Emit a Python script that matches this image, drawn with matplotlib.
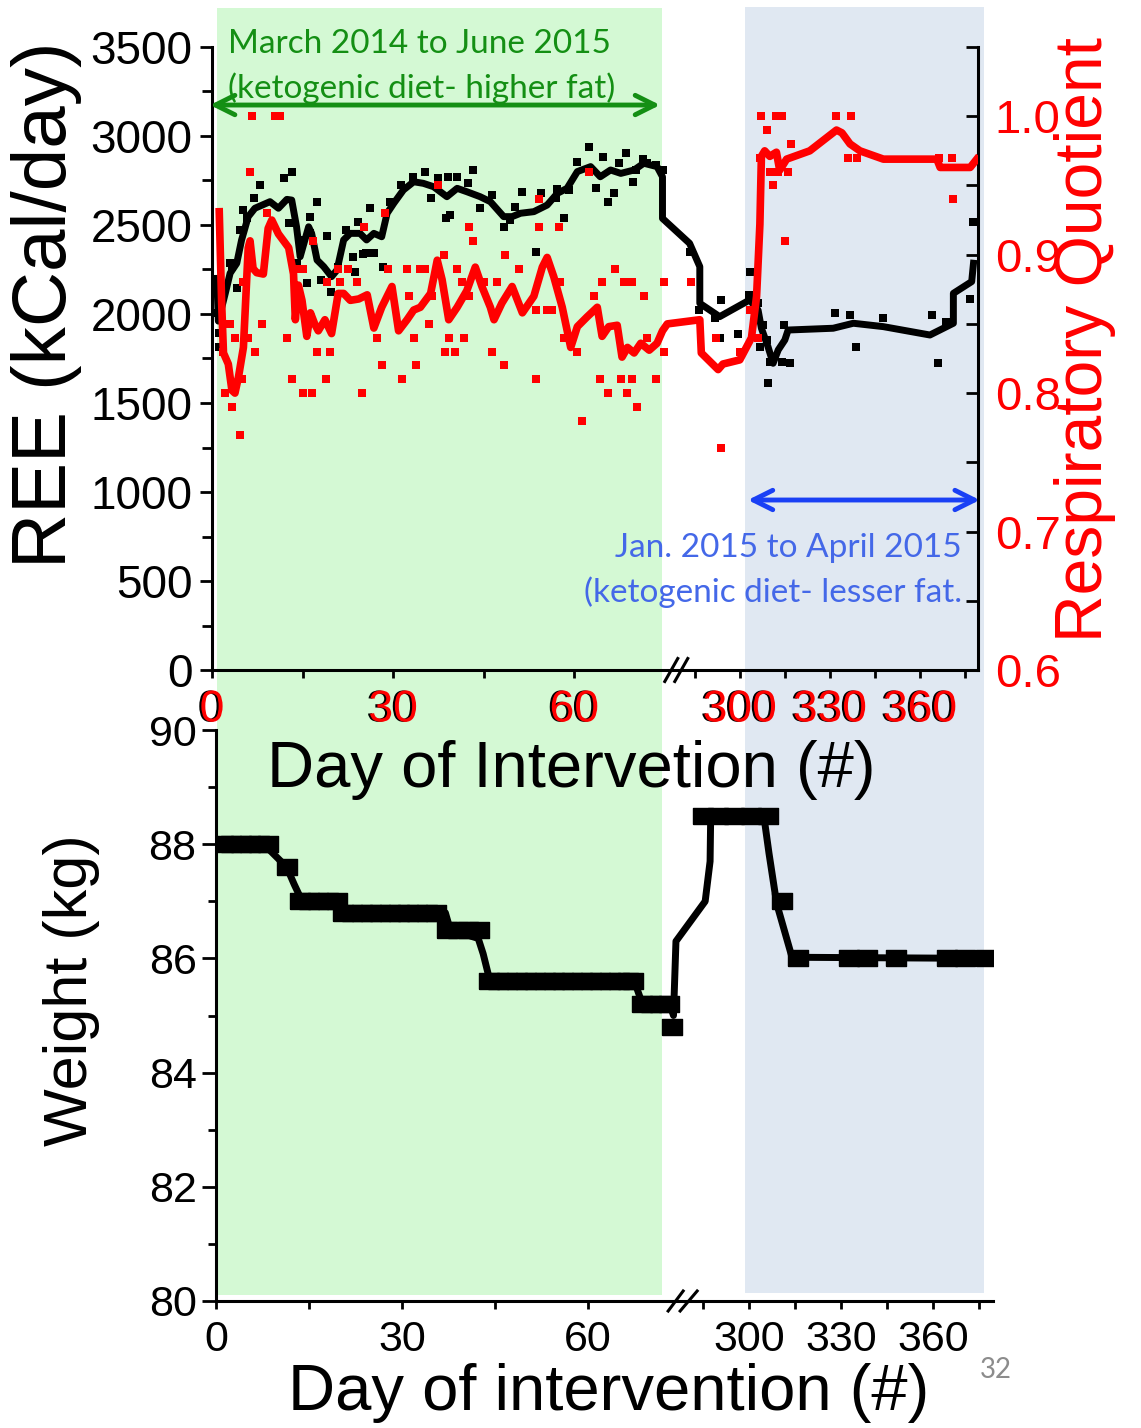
import numpy as np
import matplotlib
matplotlib.use("Agg")
import matplotlib.pyplot as plt
import matplotlib.transforms as mtransforms
import matplotlib.patheffects as pe
from matplotlib.patches import Rectangle
from matplotlib.ticker import FixedLocator, FormatStrFormatter

plt.rcParams['font.family'] = ['Liberation Sans', 'DejaVu Sans']

# ---------------- data ----------------
# REE raw measurements (black squares)
ree_pt_day = [0.8, 1.0, 1.1, 1.1, 3.0, 3.3, 4.1, 4.7, 5.2, 5.8, 6.9, 8.0, 11.9, 12.7, 13.3, 14.1, 14.7, 15.8,
              16.3, 16.3, 17.4, 18.0, 19.1, 19.7, 20.8, 22.2, 23.3, 23.7, 24.1, 25.0, 25.5, 26.1, 26.9, 28.3,
              29.4, 31.3, 33.3, 35.2, 36.3, 37.4, 38.8, 39.1, 39.4, 40.5, 42.4, 43.3, 44.4, 46.3, 48.3, 49.4,
              50.2, 51.3, 53.6, 54.4, 56.9, 57.2, 58.3, 59.1, 60.5, 62.4, 63.6, 64.7, 65.5, 66.6, 67.4, 68.6,
              69.7, 70.2, 71.3, 72.1, 73.6, 74.7,
              283.3, 286.4, 291.7, 293.3, 293.9, 299.4, 303.1, 303.3, 306.1, 306.7, 307.8, 308.9, 309.4, 310.0,
              313.9, 314.7, 316.7, 331.7, 336.7, 338.7, 347.8, 363.9, 366.1, 368.6, 376.8, 377.8]
ree_pt_val = [2182, 2004, 1816, 1893, 2285, 2266, 2144, 2472, 2584, 2537, 2650, 2725, 2762, 2509, 2800, 2289,
              2416, 2172, 2547, 2453, 2631, 2191, 2438, 2125, 2266, 2472, 2322, 2238, 2519, 2337, 2341, 2594,
              2341, 2266, 2631, 2725, 2771, 2800, 2650, 2762, 2537, 2771, 2556, 2771, 2734, 2809, 2594, 2668,
              2490, 2528, 2603, 2687, 2350, 2678, 2650, 2700, 2537, 2697, 2856, 2940, 2706, 2884, 2631, 2681,
              2847, 2903, 2743, 2809, 2869, 2847, 2837, 2809,
              2350, 2022, 1976, 1864, 2079, 1886, 2107, 2238, 2060, 1816, 1938, 1854, 1614, 1732, 1732, 1938,
              1726, 2004, 1994, 1816, 1976, 1994, 1726, 1955, 2083, 2519]

# REE smoothed trend (black line)
ree_line_day = [0.8, 1.05, 2.2, 3.0, 4.1, 4.9, 6.0, 7.1, 9.6, 11.0, 12.4, 13.2, 14.0, 14.6, 16.0, 16.5, 17.4,
                18.5, 19.8, 20.7, 21.8, 22.9, 24.5, 25.6, 26.8, 28.1, 29.0, 30.1, 31.7, 33.4, 35.0, 36.7, 38.9,
                40.6, 42.2, 44.4, 46.1, 48.3, 49.7, 51.1, 53.3, 55.5, 57.2, 58.8, 60.5, 62.7, 64.3, 66.0, 67.7,
                69.9, 71.5, 73.7, 74.6, 74.6,
                283.3, 286.7, 286.7, 293.3, 303.3, 306.1, 307.2, 309.4, 311.1, 312.8, 315.0, 316.1, 331.1,
                337.8, 347.8, 363.3, 371.1, 371.1, 377.2, 377.8]
ree_line_val = [2200, 1960, 2116, 2229, 2285, 2416, 2547, 2594, 2631, 2594, 2644, 2640, 2490, 2322, 2490, 2453,
                2303, 2266, 2210, 2247, 2416, 2453, 2453, 2416, 2453, 2434, 2566, 2622, 2697, 2743, 2734, 2715,
                2659, 2706, 2687, 2659, 2631, 2547, 2547, 2566, 2575, 2612, 2678, 2706, 2800, 2828, 2771, 2809,
                2790, 2809, 2847, 2828, 2771, 2537,
                2397, 2266, 2060, 1985, 2079, 2022, 1920, 1816, 1723, 1798, 1854, 1910, 1920, 1948, 1929,
                1882, 1948, 2116, 2182, 2285]

# RQ raw measurements (red squares)
rq_pt_day = [6.6, 10.4, 11.3, 6.3, 9.1, 8.2, 3.0, 3.8, 6.0, 7.1, 2.2, 3.3, 4.6, 4.9, 12.4, 13.2, 15.1, 16.5,
             14.0, 15.1, 17.4, 19.6, 18.9, 16.8, 19.0, 21.2, 24.0, 25.1, 28.7, 29.2, 32.3, 34.5, 35.3, 27.3,
             28.1, 31.5, 24.8, 33.4, 33.7, 35.9, 37.5, 38.4, 39.2, 38.6, 40.3, 41.7, 40.6, 42.5, 43.3, 45.0,
             47.2, 46.4, 48.3, 48.6, 50.8, 53.6, 54.1, 54.1, 55.5, 56.3, 57.4, 57.7, 58.3, 60.5, 53.7, 61.3,
             62.4, 63.2, 64.6, 64.3, 65.5, 66.8, 67.7, 68.2, 68.8, 69.6, 69.6, 70.4, 71.5, 72.1, 73.5, 74.8,
             74.8, 2.4, 5.2, 1.9, 20.9, 22.6, 41.4, 32.6, 36.4, 42.5,
             283.9, 292.0, 293.9, 300.0, 303.3, 306.1, 307.2, 312.2, 314.2, 308.9, 316.9, 306.7, 310.0, 312.8,
             316.1, 311.1, 315.0, 332.2, 336.9, 336.1, 338.9, 366.4, 370.5, 371.0]
rq_pt_val = [1.00, 1.00, 1.00, 0.96, 0.93, 0.85, 0.85, 0.84, 0.84, 0.83, 0.80, 0.79, 0.77, 0.81, 0.84, 0.81,
             0.80, 0.80, 0.89, 0.89, 0.83, 0.83, 0.81, 0.91, 0.88, 0.88, 0.88, 0.92, 0.93, 0.89, 0.89, 0.89,
             0.89, 0.84, 0.82, 0.81, 0.80, 0.84, 0.82, 0.85, 0.95, 0.90, 0.84, 0.83, 0.83, 0.84, 0.89, 0.92,
             0.91, 0.88, 0.88, 0.83, 0.82, 0.90, 0.89, 0.86, 0.94, 0.92, 0.86, 0.86, 0.92, 0.88, 0.84, 0.83,
             0.81, 0.78, 0.96, 0.87, 0.88, 0.81, 0.80, 0.89, 0.81, 0.88, 0.80, 0.88, 0.81, 0.79, 0.87, 0.84,
             0.81, 0.88, 0.83, 0.85, 0.88, 0.83, 0.89, 0.89, 0.88, 0.87, 0.87, 0.87,
             0.88, 0.84, 0.76, 0.83, 0.86, 0.84, 1.00, 1.00, 1.00, 0.99, 0.98, 0.97, 0.96, 0.96, 0.96, 0.95,
             0.91, 1.00, 1.00, 0.97, 0.97, 0.97, 0.97, 0.94]

# RQ smoothed trend (red line)
rq_line_day = [1.2, 1.6, 1.9, 2.7, 3.3, 3.8, 4.4, 5.2, 6.0, 6.3, 6.8, 7.4, 8.5, 9.3, 9.9, 11.0, 12.7, 13.5,
               13.8, 14.3, 14.9, 15.7, 16.3, 17.0, 17.6, 18.7, 19.8, 20.9, 21.8, 22.9, 24.3, 25.7, 26.8, 28.1,
               29.8, 30.9, 32.3, 33.4, 34.5, 36.2, 37.3, 38.1, 39.2, 40.6, 42.2, 43.6, 44.7, 46.1, 46.7, 48.0,
               49.7, 51.4, 53.3, 54.7, 55.5, 56.6, 58.0, 59.4, 60.5, 62.1, 63.8, 64.6, 65.7, 67.1, 67.9, 68.8,
               69.9, 71.0, 72.4, 73.7, 74.6, 75.4,
               286.7, 287.2, 292.8, 294.4, 300.0, 303.9, 305.6, 306.7, 307.2, 308.3, 310.0, 312.2, 313.3,
               315.6, 323.3, 332.2, 334.0, 336.7, 340.0, 347.8, 365.6, 366.7, 376.7, 378.9]
rq_line_val = [0.931, 0.865, 0.829, 0.821, 0.802, 0.800, 0.812, 0.833, 0.905, 0.910, 0.890, 0.887, 0.886,
               0.919, 0.925, 0.915, 0.905, 0.886, 0.853, 0.878, 0.867, 0.841, 0.858, 0.850, 0.845, 0.853,
               0.843, 0.872, 0.872, 0.867, 0.868, 0.871, 0.847, 0.862, 0.877, 0.845, 0.853, 0.860, 0.862,
               0.872, 0.896, 0.882, 0.853, 0.862, 0.874, 0.891, 0.877, 0.862, 0.853, 0.865, 0.877, 0.858,
               0.870, 0.891, 0.898, 0.884, 0.862, 0.833, 0.848, 0.855, 0.862, 0.841, 0.848, 0.849, 0.826,
               0.833, 0.829, 0.836, 0.831, 0.836, 0.845, 0.850,
               0.853, 0.829, 0.817, 0.821, 0.824, 0.840, 0.870, 0.922, 0.971, 0.975, 0.971, 0.974, 0.961,
               0.969, 0.975, 0.990, 0.988, 0.980, 0.975, 0.969, 0.969, 0.963, 0.963, 0.969]

# Weight measurements (markers)
wt_day = [1.1, 2.5, 4.0, 5.5, 7.0, 8.4, 11.4, 13.5, 15.0, 16.5, 18.0, 19.5, 20.5, 22.0, 23.5, 25.0, 26.5,
          28.0, 29.5, 31.0, 32.5, 34.0, 35.5, 37.3, 39.0, 40.7, 42.4, 44.0, 45.5, 47.0, 48.5, 50.0, 51.5,
          53.0, 54.5, 56.0, 57.5, 59.0, 60.5, 62.0, 63.5, 65.0, 66.5, 67.3, 68.7, 70.2, 71.7, 73.1, 73.5,
          285.0, 290.0, 295.0, 300.5, 306.2, 310.6, 316.0, 332.6, 338.5, 347.8, 364.6, 370.5, 377.2]
wt_kg = [88.0, 88.0, 88.0, 88.0, 88.0, 88.0, 87.6, 87.0, 87.0, 87.0, 87.0, 87.0, 86.8, 86.8, 86.8, 86.8,
         86.8, 86.8, 86.8, 86.8, 86.8, 86.8, 86.8, 86.5, 86.5, 86.5, 86.5, 85.6, 85.6, 85.6, 85.6, 85.6,
         85.6, 85.6, 85.6, 85.6, 85.6, 85.6, 85.6, 85.6, 85.6, 85.6, 85.6, 85.6, 85.2, 85.2, 85.2, 85.2,
         84.8, 88.5, 88.5, 88.5, 88.5, 88.5, 87.0, 86.0, 86.0, 86.0, 86.0, 86.0, 86.0, 86.0]
# Weight trend line
wt_line_day = [0, 7.7, 11.4, 12.6, 13.9, 19.5, 20.3, 37.0, 37.8, 42.3, 43.1, 44.2, 67.5, 68.3, 68.8, 73.2,
               73.8, 74.2, 285.7, 287.3, 287.5, 304.8, 306.5, 309.0, 314.0, 377.2]
wt_line_kg = [88.0, 88.0, 87.6, 87.3, 87.0, 87.0, 86.8, 86.8, 86.5, 86.35, 86.08, 85.6, 85.6, 85.35, 85.2,
              85.2, 85.0, 86.3, 87.0, 87.7, 88.5, 88.5, 87.84, 86.96, 86.02, 86.0]

x_major = [0, 30, 60, 300, 330, 360]
x_minor = [15, 45, 285, 315, 345, 375]
ree_ticks = [0, 500, 1000, 1500, 2000, 2500, 3000, 3500]
ree_minor = [250, 750, 1250, 1750, 2250, 2750, 3250]
rq_ticks = [0.6, 0.7, 0.8, 0.9, 1.0]
rq_minor = [0.65, 0.75, 0.85, 0.95, 1.05]
wt_ticks = [80, 82, 84, 86, 88, 90]
wt_minor = [81, 83, 85, 87, 89]

# ---------------- figure ----------------
W, H = 1141, 1428
fig = plt.figure(figsize=(W / 100, H / 100), dpi=100)


def fx(px):
    return px / W


def fy(py):
    return 1 - py / H


def broken(b1, b2, r):
    def fwd(x):
        x = np.asarray(x, dtype=float)
        return np.where(x <= b1, x, np.where(x >= b2, b1 + (x - b2) * r, b1))

    def inv(u):
        u = np.asarray(u, dtype=float)
        return np.where(u <= b1, u, b2 + (u - b1) / r)
    return fwd, inv


GREEN = '#d4f9d4'
BLUE = '#e0e8f2'
GTXT = '#148f14'
BTXT = '#4468e8'

# ---- top panel ----
T_B1, T_B2, T_R = 76.8, 278.7, 0.4975
ax = fig.add_axes([fx(212), fy(670), fx(978) - fx(212), (670 - 47) / H])
ax.set_facecolor('none')
ax.set_xscale('function', functions=broken(T_B1, T_B2, T_R))
ax.set_xlim(0, 379.3)
ax.set_ylim(0, 3500)
ax2 = ax.twinx()
ax2.set_xscale('function', functions=broken(T_B1, T_B2, T_R))
ax2.set_xlim(0, 379.3)
ax2.set_ylim(0.6, 1.05)

ax.scatter(ree_pt_day, ree_pt_val, marker='s', s=38, c='black', linewidths=0, zorder=2)
ax.plot(ree_line_day, ree_line_val, color='black', lw=5, solid_joinstyle='round', zorder=3)
ax2.scatter(rq_pt_day, rq_pt_val, marker='s', s=38, c='#ff0000', linewidths=0, zorder=2)
ax2.plot(rq_line_day, rq_line_val, color='#ff0000', lw=5.5, solid_joinstyle='round', zorder=3)

for a in (ax, ax2):
    a.spines['top'].set_visible(False)
ax.spines['right'].set_visible(False)
ax2.spines['left'].set_visible(False)
ax2.spines['bottom'].set_visible(False)
for s in ('left', 'bottom'):
    ax.spines[s].set_linewidth(2.2)
ax2.spines['right'].set_linewidth(2.2)

ax.xaxis.set_major_locator(FixedLocator(x_major))
ax.xaxis.set_minor_locator(FixedLocator(x_minor))
ax.yaxis.set_major_locator(FixedLocator(ree_ticks))
ax.yaxis.set_minor_locator(FixedLocator(ree_minor))
ax.tick_params(axis='x', which='both', direction='out', length=6, width=2, labelsize=32,
               labelcolor='#ff0000', pad=8)
ax.tick_params(axis='y', which='major', direction='out', length=9, width=2, labelsize=33, pad=5)
ax.tick_params(axis='y', which='minor', direction='out', length=7, width=2)
for lbl in ax.get_xticklabels():
    lbl.set_path_effects([pe.withSimplePatchShadow(offset=(-1.5, 0), shadow_rgbFace='black', alpha=1.0)])

ax2.yaxis.set_major_locator(FixedLocator(rq_ticks))
ax2.yaxis.set_minor_locator(FixedLocator(rq_minor))
ax2.yaxis.set_major_formatter(FormatStrFormatter('%.1f'))
ax2.tick_params(axis='y', which='both', direction='in', length=9, width=2, labelsize=34,
                labelcolor='#ff0000', pad=12)

# break marks (top)
tfrac = T_B1 / (T_B1 + (379.3 - T_B2) * T_R)
for d0, d1 in ((-11, 2), (-1, 12)):
    ax.plot([tfrac + d0 / 766, tfrac + d1 / 766], [-11.5 / 623, 11.5 / 623], transform=ax.transAxes,
            color='black', lw=2.2, clip_on=False, zorder=5)

# shaded periods spanning both panels
bt = mtransforms.blended_transform_factory(ax.transData, fig.transFigure)
fig.add_artist(Rectangle((0.83, fy(1295)), 74.5 - 0.83, (1295 - 8) / H, transform=bt,
                         facecolor=GREEN, edgecolor='none', zorder=-5))
fig.add_artist(Rectangle((301.7, fy(1293)), 381.3 - 301.7, (1293 - 7) / H, transform=bt,
                         facecolor=BLUE, edgecolor='none', zorder=-5))

# arrows + annotations
ax.annotate('', xy=(74.2, 3174), xytext=(-0.33, 3174), annotation_clip=False,
            arrowprops=dict(arrowstyle='<->', color=GTXT, lw=3.5, mutation_scale=35, shrinkA=0, shrinkB=0))
ax.annotate('', xy=(379.9, 955), xytext=(302.7, 955), annotation_clip=False,
            arrowprops=dict(arrowstyle='<->', color='#1a40f5', lw=3.5, mutation_scale=35, shrinkA=0, shrinkB=0))
fig.text(fx(228), fy(44), 'March 2014 to June 2015', color=GTXT, fontsize=24, family='Lato',
         ha='left', va='center')
fig.text(fx(228), fy(88), '(ketogenic diet- higher fat)', color=GTXT, fontsize=24, family='Lato',
         ha='left', va='center')
fig.text(fx(962), fy(548), 'Jan. 2015 to April 2015', color=BTXT, fontsize=24, family='Lato',
         ha='right', va='center')
fig.text(fx(962), fy(592), '(ketogenic diet- lesser fat.', color=BTXT, fontsize=24, family='Lato',
         ha='right', va='center')

fig.text(fx(47), fy(305), 'REE (kCal/day)', rotation=90, fontsize=55, ha='center', va='center')
fig.text(fx(1085), fy(340), 'Respiratory Quotient', rotation=90, fontsize=47.5, color='#ff0000',
         ha='center', va='center')
fig.text(fx(571), fy(770), 'Day of Intervetion (#)', fontsize=47, ha='center', va='center')

# ---- bottom panel ----
B_B1, B_B2, B_R = 75.2, 278.2, 0.495
axb = fig.add_axes([fx(216), fy(1301), fx(993) - fx(216), (1301 - 730) / H])
axb.set_facecolor('none')
axb.set_xscale('function', functions=broken(B_B1, B_B2, B_R))
axb.set_xlim(0, 379.5)
axb.set_ylim(80, 90)
axb.plot(wt_line_day, wt_line_kg, color='black', lw=5, solid_joinstyle='round', zorder=3)
rect_marker = [(-1.25, -1), (1.25, -1), (1.25, 1), (-1.25, 1), (-1.25, -1)]
axb.plot(wt_day, wt_kg, linestyle='none', marker=rect_marker, markersize=15, color='black', zorder=4)

axb.spines['top'].set_visible(False)
axb.spines['right'].set_visible(False)
axb.spines['left'].set_linewidth(2.2)
axb.spines['bottom'].set_linewidth(2.2)
axb.xaxis.set_major_locator(FixedLocator(x_major))
axb.xaxis.set_minor_locator(FixedLocator(x_minor))
axb.yaxis.set_major_locator(FixedLocator(wt_ticks))
axb.yaxis.set_minor_locator(FixedLocator(wt_minor))
axb.tick_params(axis='x', which='both', direction='out', length=6, width=2, labelsize=31, pad=8)
axb.tick_params(axis='y', which='major', direction='out', length=10, width=2, labelsize=31, pad=4)
axb.tick_params(axis='y', which='minor', direction='out', length=6, width=2)

bfrac = B_B1 / (B_B1 + (379.5 - B_B2) * B_R)
for d0, d1 in ((-14, 1), (-2, 15)):
    axb.plot([bfrac + d0 / 777, bfrac + d1 / 777], [-10 / 571, 10 / 571], transform=axb.transAxes,
             color='black', lw=2.2, clip_on=False, zorder=5)

fig.text(fx(72), fy(990), 'Weight (kg)', rotation=90, fontsize=44, ha='center', va='center')
fig.text(fx(609), fy(1393), 'Day of intervention (#)', fontsize=47, ha='center', va='center')
fig.text(fx(996), fy(1370), '32', color='#8c8c8c', fontsize=20, family='Lato', ha='center', va='center')

fig.savefig('out.png', dpi=100)
